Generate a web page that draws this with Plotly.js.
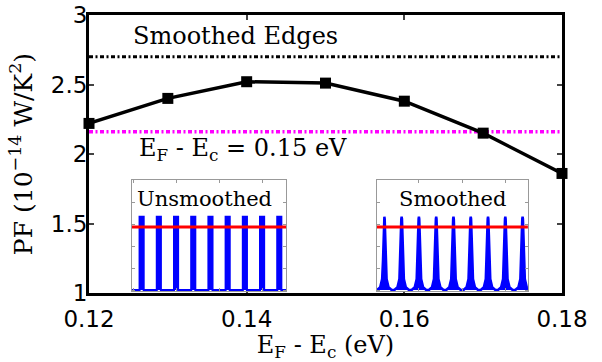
<!DOCTYPE html>
<html>
<head>
<meta charset="utf-8">
<script src="https://cdn.plot.ly/plotly-3.0.1.min.js"></script>
<style>html,body{margin:0;padding:0;background:#fff;}#chart{width:602px;height:362px;}</style>
</head>
<body>
<div id="chart"></div>
<script>
// Main series: power factor vs E_F - E_c
const energyEV = [0.12, 0.13, 0.14, 0.15, 0.16, 0.17, 0.18];
const pfValues = [2.22, 2.40, 2.52, 2.51, 2.38, 2.15, 1.86];
// Reference levels
const smoothedEdgesPF = 2.70;
const fixedFermiPF = 2.16;
const xTicks = [0.12, 0.14, 0.16, 0.18];
const xTickLabels = ['0.12', '0.14', '0.16', '0.18'];
const yTicks = [1, 1.5, 2, 2.5, 3];
const yTickLabels = ['1', '1.5', '2', '2.5', '3'];
// Inset data: peak centres and shapes
const peakCentres = [1, 2, 3, 4, 5, 6, 7, 8, 9];
const rectProfileDx = [-0.12, -0.12, 0.12, 0.12];
const rectProfileDy = [0, 1, 1, 0];
const smoothProfileDx = [-0.42, -0.24, -0.13, -0.08, -0.05, -0.02, 0, 0.02, 0.05, 0.08, 0.13, 0.24, 0.42];
const smoothProfileDy = [0, 0.04, 0.15, 0.4, 0.75, 0.97, 1, 0.97, 0.75, 0.4, 0.15, 0.04, 0];
const redLevel = 0.86;
const insetLabels = ['Unsmoothed', 'Smoothed'];

function buildPeaks(dx, dy, xmin, xmax) {
  const x = [xmin], y = [0];
  peakCentres.forEach(c => { dx.forEach((d, i) => { x.push(c + d); y.push(dy[i]); }); });
  x.push(xmax); y.push(0);
  return {x, y};
}
const r1 = [0.44, 9.39];
const r2 = [0.55, 9.31];
const p1 = buildPeaks(rectProfileDx, rectProfileDy, r1[0], r1[1]);
const p2 = buildPeaks(smoothProfileDx, smoothProfileDy, r2[0], r2[1]);

const serif = 'DejaVu Serif, serif';
const traces = [
  {x: [xTicks[0], xTicks[xTicks.length-1]], y: [smoothedEdgesPF, smoothedEdgesPF], mode: 'lines',
   line: {color: '#000', width: 3, dash: '4px,2.5px,2px,2.5px'}, xaxis: 'x', yaxis: 'y', hoverinfo: 'skip'},
  {x: [xTicks[0], xTicks[xTicks.length-1]], y: [fixedFermiPF, fixedFermiPF], mode: 'lines',
   line: {color: '#ff00ff', width: 3.5, dash: '4px,2.5px,2px,2.5px'}, xaxis: 'x', yaxis: 'y', hoverinfo: 'skip'},
  {x: energyEV, y: pfValues, mode: 'lines+markers', cliponaxis: false,
   line: {color: '#000', width: 3.5}, marker: {symbol: 'square', size: 11, color: '#000'}, xaxis: 'x', yaxis: 'y'},
  {x: p1.x, y: p1.y, mode: 'lines', fill: 'tozeroy', fillcolor: '#0000ff', line: {color: '#0000ff', width: 2}, xaxis: 'x2', yaxis: 'y2'},
  {x: r1, y: [redLevel, redLevel], mode: 'lines', line: {color: '#ff0000', width: 3}, xaxis: 'x2', yaxis: 'y2'},
  {x: p2.x, y: p2.y, mode: 'lines', fill: 'tozeroy', fillcolor: '#0000ff', line: {color: '#0000ff', width: 2.5}, xaxis: 'x3', yaxis: 'y3'},
  {x: r2, y: [redLevel, redLevel], mode: 'lines', line: {color: '#ff0000', width: 3}, xaxis: 'x3', yaxis: 'y3'}
];

const tickFont = {family: 'DejaVu Sans, sans-serif', size: 23, color: '#000'};
const insetAxis = {showline: true, mirror: 'ticks', linecolor: '#999', linewidth: 1, ticks: 'inside', ticklen: 3,
  tickcolor: '#999', showticklabels: false, showgrid: false, zeroline: false, fixedrange: true};
const layout = {
  width: 602, height: 362,
  margin: {l: 89, r: 40, t: 15, b: 69},
  paper_bgcolor: '#fff', plot_bgcolor: '#fff',
  showlegend: false,
  xaxis: {range: [0.12, 0.18], tickvals: xTicks, ticktext: xTickLabels, tickfont: tickFont,
    showline: true, mirror: 'ticks', linewidth: 3, linecolor: '#000', ticks: 'inside', ticklen: 5, tickwidth: 2,
    showgrid: false, zeroline: false, ticklabelstandoff: 3,
    title: {text: 'E<sub>F</sub> - E<sub>c</sub> (eV)', font: {family: serif, size: 24, color: '#000'}, standoff: 4}},
  yaxis: {range: [1, 3], tickvals: yTicks, ticktext: yTickLabels, tickfont: tickFont,
    showline: true, mirror: 'ticks', linewidth: 3, linecolor: '#000', ticks: 'inside', ticklen: 5, tickwidth: 2,
    showgrid: false, zeroline: false, ticklabelstandoff: -6,
    title: {text: 'PF (10<sup>\u221214</sup> W/K<sup>2</sup>)', font: {family: serif, size: 25, color: '#000'}, standoff: 12}},
  xaxis2: Object.assign({}, insetAxis, {domain: [0.0909, 0.4165], range: r1, anchor: 'y2', tick0: 3, dtick: 2.5}),
  yaxis2: Object.assign({}, insetAxis, {domain: [0.007, 0.406], range: [-0.014, 1.5], anchor: 'x2', tick0: 0, dtick: 0.3}),
  xaxis3: Object.assign({}, insetAxis, {domain: [0.608, 0.928], range: r2, anchor: 'y3', tick0: 3, dtick: 2.5}),
  yaxis3: Object.assign({}, insetAxis, {domain: [0.007, 0.406], range: [-0.014, 1.5], anchor: 'x3', tick0: 0, dtick: 0.3}),
  annotations: [
    {text: 'Smoothed Edges', x: 0.1386, y: 2.85, xref: 'x', yref: 'y', showarrow: false,
     font: {family: serif, size: 24, color: '#000'}, xanchor: 'center', yanchor: 'middle'},
    {text: 'E<sub>F</sub> - E<sub>c</sub> = 0.15 eV', x: 0.1395, y: 2.03, xref: 'x', yref: 'y', showarrow: false,
     font: {family: serif, size: 24, color: '#000'}, xanchor: 'center', yanchor: 'middle'},
    {text: insetLabels[0], x: 0.47, y: 1.24, xref: 'x2 domain', yref: 'y2', showarrow: false,
     font: {family: serif, size: 21, color: '#000'}, xanchor: 'center', yanchor: 'middle'},
    {text: insetLabels[1], x: 0.5, y: 1.24, xref: 'x3 domain', yref: 'y3', showarrow: false,
     font: {family: serif, size: 21, color: '#000'}, xanchor: 'center', yanchor: 'middle'}
  ]
};
Plotly.newPlot('chart', traces, layout, {displayModeBar: false, staticPlot: true});
</script>
</body>
</html>
